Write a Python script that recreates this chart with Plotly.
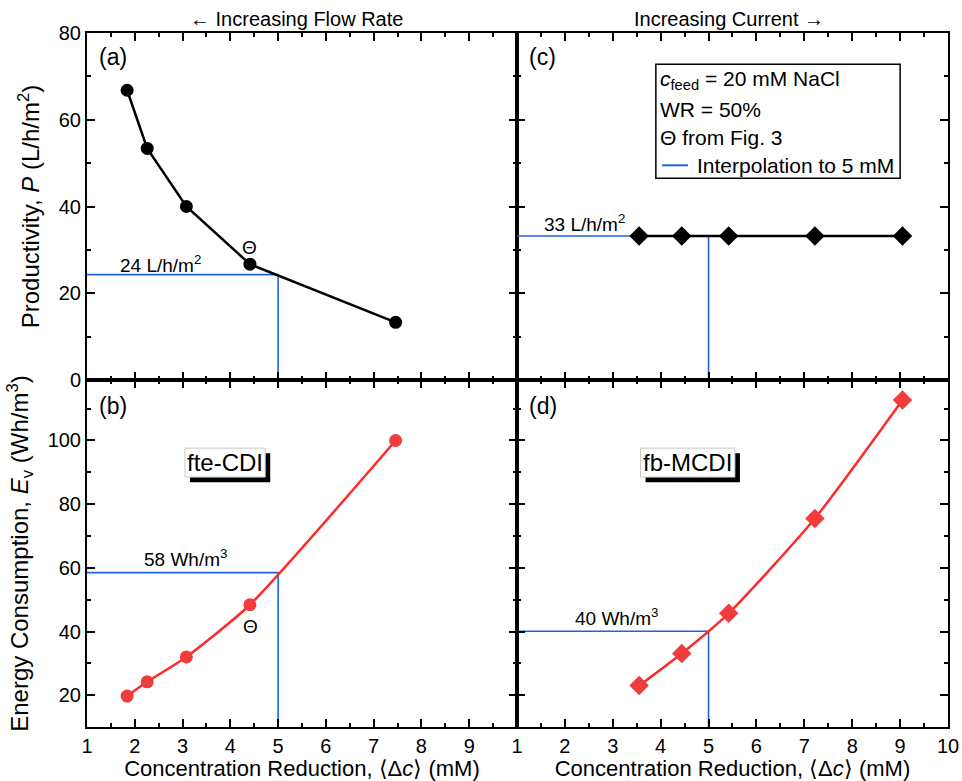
import plotly.graph_objects as go
from plotly.subplots import make_subplots

# ---------------- data ----------------
fte_dc = [1.84, 2.26, 3.08, 4.41, 7.46]           # fte-CDI concentration reduction (mM)
fte_P = [66.8, 53.4, 40.0, 26.7, 13.3]            # productivity (L/h/m2)
fte_E = [19.7, 24.2, 32.0, 48.4, 100.0]           # energy consumption (Wh/m3)

fb_dc = [3.55, 4.44, 5.42, 7.22, 9.05]            # fb-MCDI concentration reduction (mM)
fb_P = [33.2, 33.2, 33.2, 33.2, 33.2]
fb_E = [23.0, 33.1, 45.7, 75.5, 112.7]

interp_dc = 5.0
fte_P_interp = 24.3
fte_E_interp = 58.5
fb_P_interp = 33.2
fb_E_interp = 40.1

x_ticks_left = [1, 2, 3, 4, 5, 6, 7, 8, 9]
x_ticks_right = [1, 2, 3, 4, 5, 6, 7, 8, 9, 10]
P_ticks = [0, 20, 40, 60, 80]
E_ticks = [20, 40, 60, 80, 100]

# ---------------- styles ----------------
FONT = "Liberation Sans, Arial, sans-serif"
RED_LINE = "#ff2a2a"
RED_MK = "#f03c3c"
BLUE = "#1f62e0"

fig = make_subplots(rows=2, cols=2, horizontal_spacing=0, vertical_spacing=0)

def blue_lines(row, col, yval, x0, y0):
    fig.add_trace(go.Scatter(x=[x0, interp_dc, interp_dc], y=[yval, yval, y0], mode="lines",
                             line=dict(color=BLUE, width=1.6), showlegend=False,
                             hoverinfo="skip"), row=row, col=col)

# (a)
blue_lines(1, 1, fte_P_interp, 1, 0)
fig.add_trace(go.Scatter(x=fte_dc, y=fte_P, mode="lines+markers",
                         line=dict(color="black", width=2.5),
                         marker=dict(symbol="circle", size=13, color="black"),
                         showlegend=False), row=1, col=1)
# (c)
blue_lines(1, 2, fb_P_interp, 1, 0)
fig.add_trace(go.Scatter(x=fb_dc, y=fb_P, mode="lines+markers",
                         line=dict(color="black", width=2.5),
                         marker=dict(symbol="diamond", size=15, color="black"),
                         showlegend=False), row=1, col=2)
# (b)
blue_lines(2, 1, fte_E_interp, 1, 10)
fig.add_trace(go.Scatter(x=fte_dc, y=fte_E, mode="lines+markers",
                         line=dict(color=RED_LINE, width=2.5, shape="spline", smoothing=0.6),
                         marker=dict(symbol="circle", size=13, color=RED_MK),
                         showlegend=False), row=2, col=1)
# (d)
blue_lines(2, 2, fb_E_interp, 1, 10)
fig.add_trace(go.Scatter(x=fb_dc, y=fb_E, mode="lines+markers",
                         line=dict(color=RED_LINE, width=2.5, shape="spline", smoothing=0.6),
                         marker=dict(symbol="diamond", size=15, color=RED_MK),
                         showlegend=False), row=2, col=2)

common = dict(showline=True, linecolor="black", linewidth=2, mirror="ticks",
              ticks="inside", ticklen=8, tickwidth=2, tickcolor="black",
              showgrid=False, zeroline=False, automargin=False,
              tickfont=dict(family=FONT, size=20, color="black"))

xminor = dict(ticks="inside", ticklen=4, tickwidth=2, tickcolor="black", dtick=0.5, showgrid=False)
XTITLE_FONT = dict(family=FONT, size=22, color="black")
YTITLE_FONT = dict(family=FONT, size=24, color="black")

# x axes
fig.update_xaxes(**common, range=[1, 10], minor=xminor)
fig.update_xaxes(row=1, col=1, showticklabels=False, tickvals=x_ticks_right)
fig.update_xaxes(row=1, col=2, showticklabels=False, tickvals=x_ticks_right)
fig.update_xaxes(row=2, col=1, tickvals=x_ticks_left, ticktext=[str(v) for v in x_ticks_left],
                 title=dict(text="Concentration Reduction, ⟨Δ<i>c</i>⟩ (mM)",
                            font=XTITLE_FONT, standoff=0))
fig.update_xaxes(row=2, col=2, tickvals=x_ticks_right,
                 title=dict(text="Concentration Reduction, ⟨Δ<i>c</i>⟩ (mM)",
                            font=XTITLE_FONT, standoff=0))

# y axes
yminor_top = dict(ticks="inside", ticklen=4, tickwidth=2, tickcolor="black", dtick=10, showgrid=False)
fig.update_yaxes(**common)
fig.update_yaxes(row=1, col=1, range=[0, 80], tickvals=P_ticks, minor=yminor_top,
                 title=dict(text="Productivity, <i>P</i> (L/h/m<sup>2</sup>)",
                            font=YTITLE_FONT, standoff=12))
fig.update_yaxes(row=1, col=2, range=[0, 80], tickvals=P_ticks, minor=yminor_top, showticklabels=False)
yminor_bot = dict(ticks="inside", ticklen=4, tickwidth=2, tickcolor="black",
                  tickvals=[10, 30, 50, 70, 90, 110], showgrid=False)
fig.update_yaxes(row=2, col=1, range=[10, 119], tickvals=E_ticks, minor=yminor_bot,
                 title=dict(text="Energy Consumption, <i>E</i><sub>v</sub> (Wh/m<sup>3</sup>)",
                            font=YTITLE_FONT, standoff=12))
fig.update_yaxes(row=2, col=2, range=[10, 119], tickvals=E_ticks, minor=yminor_bot, showticklabels=False)

# domains
fig.update_layout(
    xaxis=dict(domain=[0, 0.4994]), xaxis2=dict(domain=[0.4994, 1]),
    xaxis3=dict(domain=[0, 0.4994]), xaxis4=dict(domain=[0.4994, 1]),
    yaxis=dict(domain=[0.5, 1]), yaxis2=dict(domain=[0.5, 1]),
    yaxis3=dict(domain=[0, 0.5]), yaxis4=dict(domain=[0, 0.5]),
)

ann = []
def text(x, y, s, xref, yref, size=19, xanchor="center", yanchor="middle"):
    ann.append(dict(x=x, y=y, text=s, xref=xref, yref=yref, showarrow=False,
                    xanchor=xanchor, yanchor=yanchor,
                    font=dict(family=FONT, size=size, color="black")))

# top headers
text(0.2437, 1.0202, "← Increasing Flow Rate", "paper", "paper", size=20)
text(0.7456, 1.0202, "Increasing Current →", "paper", "paper", size=20)
# panel labels
text(1.2, 74.5, "(a)", "x", "y", size=23, xanchor="left")
text(1.2, 74.5, "(c)", "x2", "y2", size=23, xanchor="left")
text(1.2, 110.8, "(b)", "x3", "y3", size=23, xanchor="left")
text(1.2, 110.8, "(d)", "x4", "y4", size=23, xanchor="left")
# values
text(2.53, 26.7, "24 L/h/m<sup>2</sup>", "x", "y", size=19)
text(2.4, 36.3, "33 L/h/m<sup>2</sup>", "x2", "y2", size=19)
text(3.07, 63.2, "58 Wh/m<sup>3</sup>", "x3", "y3", size=19)
text(3.07, 44.6, "40 Wh/m<sup>3</sup>", "x4", "y4", size=19)
# Theta markers
text(4.41, 30.6, "Θ", "x", "y", size=19)
text(4.42, 41.6, "Θ", "x3", "y3", size=19)

shapes = []
def shadow_box(x0, x1, y0, y1, xref, yref, dx, dy):
    shapes.append(dict(type="rect", xref=xref, yref=yref, x0=x0 + dx, x1=x1 + dx,
                       y0=y0 - dy, y1=y1 - dy, fillcolor="black", line=dict(width=0)))
    shapes.append(dict(type="rect", xref=xref, yref=yref, x0=x0, x1=x1, y0=y0, y1=y1,
                       fillcolor="white", line=dict(color="#c8c8c8", width=1)))

shadow_box(3.05, 4.73, 88.5, 97.6, "x3", "y3", 0.105, 1.6)
text(3.89, 93.05, "fte-CDI", "x3", "y3", size=24)
shadow_box(3.58, 5.55, 88.5, 97.6, "x4", "y4", 0.105, 1.6)
text(4.565, 93.05, "fb-MCDI", "x4", "y4", size=24)

# info box in (c)
shapes.append(dict(type="rect", xref="x2", yref="y2", x0=3.9, x1=9.0, y0=46.5, y1=72.8,
                   fillcolor="white", line=dict(color="black", width=1.5)))
text(3.95, 69.1, "<i>c</i><sub>feed</sub> = 20 mM NaCl", "x2", "y2", size=21, xanchor="left")
text(3.95, 62.3, "WR = 50%", "x2", "y2", size=21, xanchor="left")
text(3.95, 55.9, "Θ from Fig. 3", "x2", "y2", size=21, xanchor="left")
text(4.72, 49.5, "Interpolation to 5 mM", "x2", "y2", size=21, xanchor="left")
shapes.append(dict(type="line", xref="x2", yref="y2", x0=4.03, x1=4.57, y0=49.5, y1=49.5,
                   line=dict(color=BLUE, width=2)))

fig.update_layout(
    width=962, height=781,
    margin=dict(l=87, r=14, t=33, b=54, autoexpand=False),
    paper_bgcolor="white", plot_bgcolor="white",
    annotations=ann, shapes=shapes, showlegend=False,
    font=dict(family=FONT, color="black"),
)

fig.write_html("out.html", config={"displayModeBar": False},
               post_script="document.body.style.margin='0';document.body.style.overflow='hidden';")
